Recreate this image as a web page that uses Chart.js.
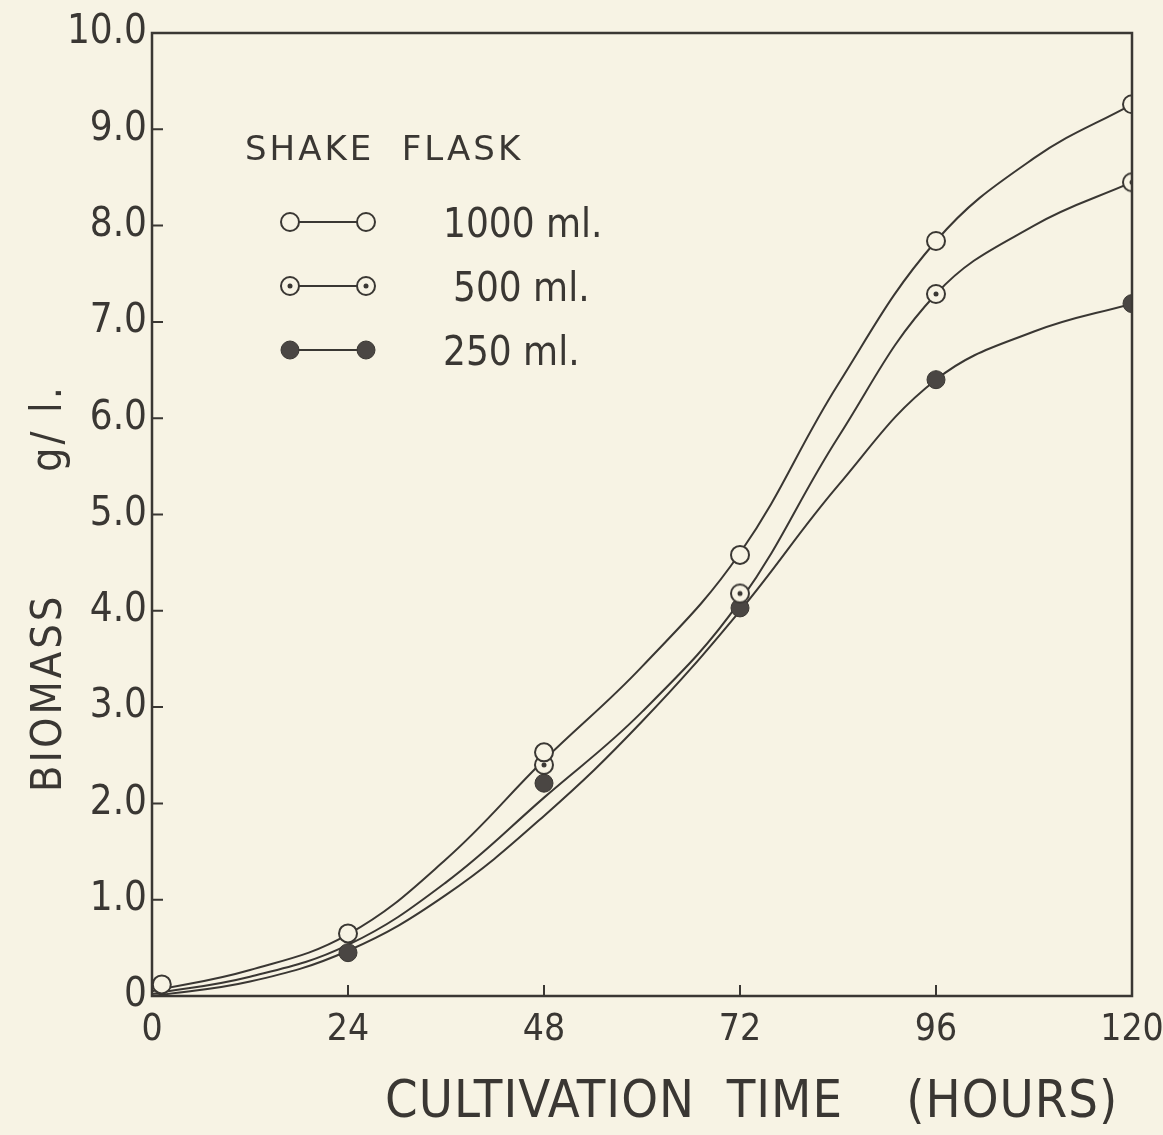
<!DOCTYPE html>
<html>
<head>
<meta charset="utf-8">
<script src="https://cdn.jsdelivr.net/npm/chart.js@4.4.0/dist/chart.umd.min.js"></script>
<style>
html, body { margin: 0; padding: 0; background: #f7f3e4; }
#wrap { width: 1163px; height: 1135px; }
</style>
</head>
<body>
<div id="wrap"><canvas id="myChart" width="1163" height="1135"></canvas></div>
<script>
const hours = [0, 24, 48, 72, 96, 120];
const hours1000 = [1.2, 24, 48, 72, 96, 120];
const flask1000 = [0.12, 0.65, 2.53, 4.58, 7.84, 9.26];
const flask500 = [0.05, 0.55, 2.40, 4.18, 7.29, 8.45];
const flask250 = [0.0, 0.45, 2.21, 4.03, 6.40, 7.19];

// the hand drawn fitted curves, read every 12 hours
const curveHours = [0, 12, 24, 36, 48, 60, 72, 84, 96, 108, 120];
const curve1000 = [0.05, 0.27, 0.64, 1.42, 2.45, 3.42, 4.60, 6.35, 7.84, 8.70, 9.26];
const curve500 = [0.02, 0.20, 0.53, 1.18, 2.06, 2.95, 4.10, 5.80, 7.29, 8.00, 8.45];
const curve250 = [0.0, 0.15, 0.47, 1.05, 1.87, 2.85, 4.00, 5.30, 6.40, 6.90, 7.19];

const xTicks = [0, 24, 48, 72, 96, 120];
const yTicks = [0, 1, 2, 3, 4, 5, 6, 7, 8, 9, 10];
const seriesNames = ["1000 ml.", "500 ml.", "250 ml."];

const ink = "#3a3733";
const paper = "#f7f3e4";
const dark = "#4a4643";
const tickFont = "'Liberation Sans Narrow', 'DejaVu Sans Condensed', 'Liberation Sans', sans-serif";

// dotted circle marker for the 500 ml flask
function dotCircle(r) {
  const c = document.createElement("canvas");
  const s = r * 2 + 4;
  c.width = s; c.height = s;
  const g = c.getContext("2d");
  g.beginPath();
  g.arc(s / 2, s / 2, r, 0, Math.PI * 2);
  g.fillStyle = paper;
  g.fill();
  g.lineWidth = 2;
  g.strokeStyle = ink;
  g.stroke();
  g.beginPath();
  g.arc(s / 2, s / 2, 2.5, 0, Math.PI * 2);
  g.fillStyle = ink;
  g.fill();
  return c;
}
const dotMarker = dotCircle(9);

function pts(xs, ys) {
  return xs.map((x, i) => ({ x: x, y: ys[i] }));
}

function curve(name, ys) {
  return {
    label: name + " curve",
    data: pts(curveHours, ys),
    borderColor: ink,
    borderWidth: 2,
    pointRadius: 0,
    tension: 0.4,
    fill: false,
    order: 2
  };
}

const datasets = [
  {
    label: seriesNames[0],
    data: pts(hours1000, flask1000),
    showLine: false,
    pointStyle: "circle",
    pointRadius: 9,
    pointBackgroundColor: paper,
    pointBorderColor: ink,
    pointBorderWidth: 2,
    order: 0
  },
  {
    label: seriesNames[1],
    data: pts(hours, flask500),
    showLine: false,
    pointStyle: dotMarker,
    pointRadius: [0, 0, 9, 9, 9, 9],
    order: 0
  },
  {
    label: seriesNames[2],
    data: pts(hours, flask250),
    showLine: false,
    pointStyle: "circle",
    pointRadius: [0, 9, 9, 9, 9, 9],
    pointBackgroundColor: dark,
    pointBorderColor: ink,
    pointBorderWidth: 1,
    order: 1
  },
  curve(seriesNames[0], curve1000),
  curve(seriesNames[1], curve500),
  curve(seriesNames[2], curve250)
];

// frame, inner tick marks, axis titles and the "SHAKE FLASK" key
const paperPlugin = {
  id: "paperPlugin",
  beforeDraw(chart) {
    const ctx = chart.ctx;
    ctx.save();
    ctx.fillStyle = paper;
    ctx.fillRect(0, 0, chart.width, chart.height);
    ctx.restore();
  },
  afterDraw(chart) {
    const ctx = chart.ctx;
    const a = chart.chartArea;
    const xs = chart.scales.x, ys = chart.scales.y;
    ctx.save();
    ctx.strokeStyle = ink;
    ctx.lineWidth = 2.5;
    ctx.strokeRect(a.left, a.top, a.right - a.left, a.bottom - a.top);
    ctx.lineWidth = 2;
    ctx.beginPath();
    yTicks.slice(1, -1).forEach(v => {
      const y = ys.getPixelForValue(v);
      ctx.moveTo(a.left, y);
      ctx.lineTo(a.left + 11, y);
    });
    xTicks.slice(1, -1).forEach(v => {
      const x = xs.getPixelForValue(v);
      ctx.moveTo(x, a.bottom);
      ctx.lineTo(x, a.bottom - 11);
    });
    ctx.stroke();

    ctx.fillStyle = ink;
    ctx.textBaseline = "alphabetic";
    ctx.textAlign = "left";
    // x title
    ctx.font = "52px " + tickFont;
    ctx.letterSpacing = "1px";
    ctx.fillText("CULTIVATION  TIME    (HOURS)", 385, 1117);
    // y title
    ctx.save();
    ctx.translate(61, 0);
    ctx.rotate(-Math.PI / 2);
    ctx.font = "43px " + tickFont;
    ctx.letterSpacing = "3px";
    ctx.fillText("BIOMASS", -792, 0);
    ctx.fillText("g/ l.", -472, 0);
    ctx.restore();

    // key
    ctx.letterSpacing = "3px";
    ctx.font = "34px 'DejaVu Sans', sans-serif";
    ctx.fillText("SHAKE  FLASK", 245, 160);
    ctx.font = "40px " + tickFont;
    ctx.letterSpacing = "0px";
    const rows = [222, 286, 350];
    const textX = [443, 453, 443];
    seriesNames.forEach((name, i) => {
      const y = rows[i];
      ctx.strokeStyle = ink;
      ctx.lineWidth = 2;
      ctx.beginPath();
      ctx.moveTo(290, y);
      ctx.lineTo(366, y);
      ctx.stroke();
      const meta = chart.getDatasetMeta(i);
      const opts = meta.data[meta.data.length - 1].options;
      [290, 366].forEach(px => {
        ctx.fillStyle = opts.backgroundColor;
        ctx.strokeStyle = opts.borderColor;
        ctx.lineWidth = opts.borderWidth;
        Chart.helpers.drawPoint(ctx, {
          pointStyle: opts.pointStyle,
          radius: 9,
          borderWidth: opts.borderWidth,
          rotation: 0
        }, px, y);
      });
      ctx.fillStyle = ink;
      ctx.fillText(name, textX[i], y + 15);
    });
    ctx.restore();
  }
};

const ctx = document.getElementById("myChart");
const myChart = new Chart(ctx, {
  type: "line",
  data: { datasets: datasets },
  options: {
    responsive: false,
    animation: false,
    devicePixelRatio: 1,
    layout: { padding: { top: 33, right: 31, left: 0, bottom: 0 } },
    plugins: {
      legend: { display: false },
      tooltip: { enabled: false }
    },
    scales: {
      x: {
        type: "linear",
        min: 0,
        max: 120,
        afterFit: s => { s.height = 139; s.paddingLeft = 0; s.paddingRight = 0; },
        afterBuildTicks: s => { s.ticks = xTicks.map(v => ({ value: v })); },
        grid: { display: false, drawTicks: false },
        border: { display: false },
        ticks: {
          color: ink,
          padding: 12,
          font: { family: tickFont, size: 37 },
          callback: v => String(v)
        }
      },
      y: {
        type: "linear",
        min: 0,
        max: 10,
        afterFit: s => { s.width = 152; s.paddingTop = 0; s.paddingBottom = 0; },
        afterBuildTicks: s => { s.ticks = yTicks.map(v => ({ value: v })); },
        grid: { display: false, drawTicks: false },
        border: { display: false },
        ticks: {
          color: ink,
          padding: 5,
          font: { family: tickFont, size: 40 },
          callback: v => v === 0 ? "0" : v.toFixed(1)
        }
      }
    }
  },
  plugins: [paperPlugin]
});
</script>
</body>
</html>
